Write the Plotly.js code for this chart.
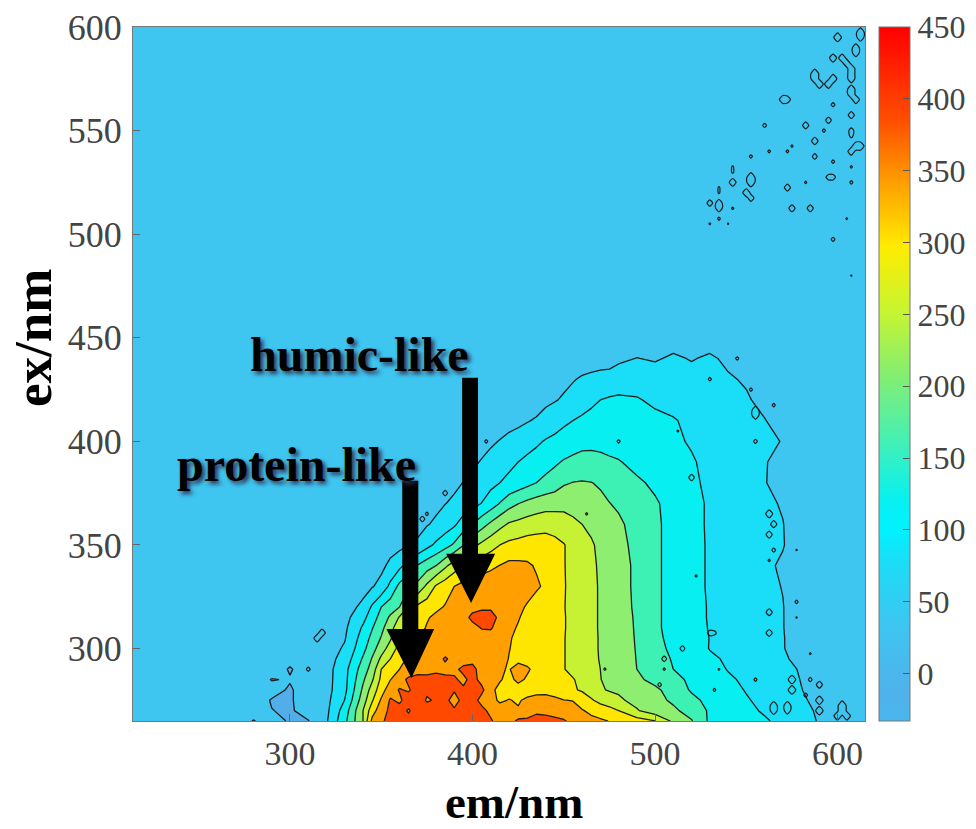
<!DOCTYPE html>
<html><head><meta charset="utf-8">
<script src="https://cdn.plot.ly/plotly-3.0.1.min.js"></script>
<style>html,body{margin:0;padding:0;background:#fff}</style></head>
<body><div id="chart" style="width:976px;height:829px"></div>
<script>
const emNm=[210,270,280,290,300,310,320,330,340,345,350,355,360,365,370,375,380,385,390,395,400,405,410,415,420,425,430,435,440,445,450,455,460,465,470,475,480,490,500,510,520,530,540,550,560,570,580,590,600,610,620];
const exNm=[265,270,275,280,285,290,295,300,305,310,315,320,330,340,350,360,370,380,390,400,410,420,430,440,450,460,620];
const r265=[33,33,9,28,6,9,50,132,231,330,355,380,385,378,392,378,395,372,372,380,385,372,368,345,345,372,370,378,380,375,368,350,345,330,325,318,310,295,276,222,190,135,125,113,103,90,70,52,40,34,33];
const r270=[33,33,28,12,5,30,45,120,231,300,345,372,380,358,390,385,378,372,368,378,372,375,352,345,340,325,345,355,350,342,335,330,322,310,300,290,275,235,205,195,170,137,122,107,95,85,65,50,36,33,32];
const r275=[33,33,33,8,6,33,43,100,210,270,325,368,355,385,392,358,368,372,350,374,380,350,338,310,322,312,332,345,342,330,320,318,300,280,262,250,238,218,200,180,155,130,117,102,90,78,60,46,34,33,33];
const r280=[33,33,33,25,6,33,40,88,195,250,300,345,366,358,385,372,385,368,366,368,372,372,335,300,298,290,290,295,300,296,295,280,270,255,235,228,225,205,195,170,138,125,110,97,85,70,56,42,33,33,33];
const r285=[33,33,33,9,14,33,39,86,180,225,285,318,345,372,380,372,385,372,368,355,375,352,335,325,300,335,310,300,312,298,290,278,262,245,232,222,215,195,175,155,135,120,105,92,80,68,54,40,33,33,33];
const r290=[33,33,33,33,7,33,38,85,165,205,275,300,319,335,345,352,350,352,355,372,375,345,335,325,315,345,328,300,300,290,277,262,255,242,231,220,210,187,160,143,130,115,97,85,75,65,52,38,33,33,33];
const r295=[33,33,33,33,24,33,37,72,148,190,240,275,305,325,332,340,345,368,350,345,350,340,338,330,318,300,295,292,298,288,277,262,252,240,229,217,205,186,158,140,128,108,92,80,72,60,45,35,33,33,33];
const r300=[33,33,33,33,33,33,36,60,130,170,210,250,290,310,325,330,340,342,350,352,345,342,338,330,320,312,310,300,295,285,277,262,250,240,228,215,205,185,155,135,125,97,85,75,68,57,38,33,33,33,33];
const r305=[33,33,33,33,33,33,35,52,118,155,190,225,272,296,318,328,338,342,348,350,352,350,342,335,322,312,306,298,296,286,277,262,250,240,228,216,205,184,152,132,118,98,85,74,65,57,37,33,33,33,33];
const r310=[33,33,33,33,33,33,34,47,105,140,175,215,260,285,305,322,335,340,345,348,352,365,368,340,322,318,305,300,295,287,278,263,250,238,228,216,205,183,150,130,112,97,85,72,62,56,38,33,33,33,33];
const r315=[33,33,33,33,33,33,33,42,85,125,158,195,235,272,295,315,328,338,345,350,372,390,392,345,330,320,315,302,293,287,278,263,250,238,228,216,205,182,150,130,112,96,85,72,62,56,37,33,33,33,33];
const r320=[33,33,33,33,33,33,33,36,65,105,143,165,187,235,285,298,310,322,335,345,352,352,350,345,340,328,315,300,290,284,277,262,250,238,228,216,205,180,150,130,112,96,85,72,62,56,36,33,33,33,33];
const r330=[33,33,33,33,33,33,33,34,40,52,68,110,155,180,200,240,280,300,319,332,340,345,348,346,345,340,335,325,312,295,278,263,250,238,228,216,205,178,150,130,110,95,82,72,62,54,35,33,33,33,33];
const r340=[33,33,33,33,33,33,33,33,34,40,45,65,88,115,146,168,187,222,253,275,290,300,310,320,330,328,325,315,300,288,277,263,250,238,226,215,205,178,150,130,110,95,85,75,62,50,34,33,33,33,33];
const r350=[33,33,33,33,33,33,33,33,33,33,34,38,42,52,62,85,107,125,150,185,220,240,258,275,285,290,295,296,295,288,277,262,248,236,222,212,200,175,150,130,110,95,85,72,62,57,35,33,33,33,33];
const r360=[33,33,33,33,33,33,33,33,33,33,33,33,33,36,42,52,62,78,92,120,143,170,195,218,236,243,250,256,260,256,250,240,231,222,212,204,195,170,150,130,108,95,82,72,62,56,34,33,33,33,33];
const r370=[33,33,33,33,33,33,33,33,33,33,33,33,33,33,34,38,45,54,62,72,85,100,120,145,170,186,198,206,212,215,218,215,210,204,197,188,180,165,148,128,108,95,80,70,62,52,33,33,33,33,33];
const r380=[33,33,33,33,33,33,33,33,33,33,33,33,33,33,33,33,36,40,47,56,65,76,88,99,108,118,130,143,155,165,182,188,190,188,182,170,165,150,135,120,107,90,80,68,57,40,33,33,33,33,33];
const r390=[33,33,33,33,33,33,33,33,33,33,33,33,33,33,33,33,33,33,35,40,48,58,70,80,90,99,107,116,125,136,147,153,158,157,155,150,146,130,120,112,103,88,78,68,58,40,33,33,33,33,33];
const r400=[33,33,33,33,33,33,33,33,33,33,33,33,33,33,33,33,33,33,33,33,35,40,48,57,68,76,85,92,102,108,115,124,130,132,130,126,122,118,112,106,95,85,78,70,65,53,34,33,33,33,33];
const r410=[33,33,33,33,33,33,33,33,33,33,33,33,33,33,33,33,33,33,33,33,33,33,33,33,38,44,52,60,72,82,92,99,106,112,115,118,118,112,108,102,90,82,75,65,57,35,33,33,33,33,33];
const r420=[33,33,33,33,33,33,33,33,33,33,33,33,33,33,33,33,33,33,33,33,33,33,33,33,33,33,33,33,45,52,60,70,80,90,99,103,105,102,92,85,80,75,68,60,42,33,33,33,33,33,33];
const r430=[33,33,33,33,33,33,33,33,33,33,33,33,33,33,33,33,33,33,33,33,33,33,33,33,33,33,33,33,33,33,45,52,60,66,72,76,80,82,80,76,72,68,60,50,34,33,33,33,33,33,33];
const r440=[33,33,33,33,33,33,33,33,33,33,33,33,33,33,33,33,33,33,33,33,33,33,33,33,33,33,33,33,33,33,33,33,33,33,33,33,46,56,50,62,52,62,46,33,33,33,33,33,33,33,33];
const r450=[33,33,33,33,33,33,33,33,33,33,33,33,33,33,33,33,33,33,33,33,33,33,33,33,33,33,33,33,33,33,33,33,33,33,33,33,33,33,33,33,33,33,33,33,33,33,33,33,33,33,33];
const r460=[33,33,33,33,33,33,33,33,33,33,33,33,33,33,33,33,33,33,33,33,33,33,33,33,33,33,33,33,33,33,33,33,33,33,33,33,33,33,33,33,33,33,33,33,33,33,33,33,33,33,33];
const r620=[33,33,33,33,33,33,33,33,33,33,33,33,33,33,33,33,33,33,33,33,33,33,33,33,33,33,33,33,33,33,33,33,33,33,33,33,33,33,33,33,33,33,33,33,33,33,33,33,33,33,33];
const intensity=[r265,r270,r275,r280,r285,r290,r295,r300,r305,r310,r315,r320,r330,r340,r350,r360,r370,r380,r390,r400,r410,r420,r430,r440,r450,r460,r620];

// small isolated noise contours
const islandEm=[600,612.5,612.5,610,610,597,602.5,605,607.5,607.5,607.5,587.5,587.5,590,597.5,595,607.5,607.5,610,570,572.5,597,607,560,582,595,607,607,593,588,610,612.5,607.5,575,562,572,588,552,598,542,542,607,552,552,542,594,596.5,607,582,572,550,552,535,535,535,535,529,542,575,584.5,606,605,535,529,539,598,607,
 545,529,552,565,555,555,555,519.5,512,562,565,561.5,565,578,561.5,522,578,578,561.5,563,584,575,575,584.5,590.5,555,582,591,591,532,535,515.5,515.5,505.5,505,502.5,531,533,602,602,604.5,600,566,566,573,573,
 315,317.5,385.6,375,372.5,408,310.7,480,462.6,473];
const islandEx=[595,597.5,595,590,587.5,585,585,582.5,580,577.5,575,577.5,575,572.5,575,572.5,570,567.5,565,565,565,562,558,552,552,555,551,548,549.5,546,542,542,540,543,540,540,538,537,534.5,531,533,532,527,525,525,528,528,525,525,522.5,520,517.5,521.5,519,515,512.5,516,513,513,513,507.5,507.5,507,504,504,498,480,
 441,429,424,417,412.5,415,400,382,405,366,360,355,348.5,348.5,342,334,322,315,318.5,306.5,297,284,281,286,283,286,277,274,271,279,289,299,301,295,289,282,306.5,306.5,272,269,267.5,267.5,272,269,272,269,
 305,307.5,375,366,363,399,291,399,366,289];
const islandPeak=[180,150,120,120,120,130,130,130,130,130,130,180,180,180,180,180,140,140,140,130,100,70,100,70,100,90,80,70,66,110,140,140,120,62,64,64,80,66,66,62,60,62,200,200,120,80,80,66,62,100,130,100,60,60,110,110,90,62,100,100,60,60,64,60,58,70,58,
 66,66,66,66,120,120,70,90,60,130,100,100,70,58,62,62,66,58,100,100,60,160,160,70,100,66,70,150,150,64,60,80,80,80,62,70,80,70,200,200,150,150,120,120,120,100,
 120,120,80,66,80,66,70,66,62,62];
const islandBase=33, islandStep=2.5;
const gridEm=[],gridEx=[];
for(let e=300;e<=615;e+=islandStep)gridEm.push(e);
for(let e=265;e<=600;e+=islandStep)gridEx.push(e);
const islandZ=gridEx.map(()=>gridEm.map(()=>islandBase));
islandEm.forEach((e,i)=>{
 const c=Math.round((e-300)/islandStep), r=Math.round((islandEx[i]-265)/islandStep);
 islandZ[r][c]=islandPeak[i];
});

const tickVals=[0,50,100,150,200,250,300,350,400,450];
const xTicks=[300,400,500,600];
const yTicks=[300,350,400,450,500,550,600];
const zMin=-33, zMax=450;
const jetScale=[[0,'#4AB6EC'],[0.0455,'#4FB2EB'],[0.1366,'#3EC5F0'],[0.2277,'#1CDCF6'],[0.2754,'#00F2FF'],[0.3188,'#08F0F0'],[0.4099,'#48F0B0'],[0.5,'#85EE70'],[0.5921,'#C8F530'],[0.6832,'#FFEC00'],[0.7743,'#FFA000'],[0.8654,'#FF4E00'],[1,'#FF0000']];
const bandScale=[[0,'#52ADE9'],[0.1,'#3EC6F1'],[0.2,'#1ADDF7'],[0.3,'#08EFF2'],[0.4,'#3DF0B4'],[0.5,'#8EEE70'],[0.6,'#C6F233'],[0.7,'#FFE600'],[0.8,'#FFA000'],[0.9,'#FF4800'],[1,'#FF2000']];
const serif='"Liberation Serif","Times New Roman",serif';

const traces=[
 {type:'heatmap',x:emNm,y:exNm,z:intensity,zmin:zMin,zmax:zMax,colorscale:jetScale,hoverinfo:'skip',
  colorbar:{x:1.0191,xanchor:'left',xref:'paper',y:0,yanchor:'bottom',yref:'paper',len:1,lenmode:'fraction',thickness:31,thicknessmode:'pixels',xpad:0,ypad:0,
   outlinecolor:'#777',outlinewidth:1,ticks:'inside',ticklen:7,tickcolor:'#555',tickvals:tickVals,ticktext:tickVals.map(String),tickfont:{family:serif,size:32,color:'#444'}}},
 {type:'contour',x:emNm,y:exNm,z:intensity,colorscale:bandScale,showscale:false,autocontour:false,
  contours:{coloring:'fill',start:11,end:407,size:44},line:{color:'#1c1c1c',width:1.3,smoothing:0}},
 {type:'contour',x:gridEm,y:gridEx,z:islandZ,showscale:false,autocontour:false,hoverinfo:'skip',
  contours:{coloring:'none',start:55,end:55,size:1},line:{color:'#1c1c1c',width:1.2,smoothing:0.6}}
];
const arrowX1=[361.5,370.3,379,366.5,352.8], arrowY1=[381,309.4,285.8];
const arrowX2=[394.3,403,412.4,399.2,385.6], arrowY2=[430.7,345.7,322];
function arrowPath(X,Y){return `M${X[0]},${Y[0]} L${X[1]},${Y[0]} L${X[1]},${Y[1]} L${X[2]},${Y[1]} L${X[3]},${Y[2]} L${X[4]},${Y[1]} L${X[0]},${Y[1]} Z`;}
const labelFont={family:serif,size:48,color:'#000',weight:700,shadow:'3px 3px 4px #335'};
const layout={width:976,height:829,margin:{l:133,r:111,t:27,b:108,pad:0,autoexpand:false},paper_bgcolor:'#fff',plot_bgcolor:'#3EC6F1',showlegend:false,
 xaxis:{range:[214,615],tickvals:xTicks,ticktext:xTicks.map(String),ticks:'inside',ticklen:7,tickcolor:'#666',showline:true,mirror:true,linecolor:'#777',linewidth:1,showgrid:false,zeroline:false,ticklabelstandoff:2,tickfont:{family:serif,size:34,color:'#444'}},
 yaxis:{range:[265,600],tickvals:yTicks,ticktext:yTicks.map(String),ticks:'inside',ticklen:7,tickcolor:'#666',showline:true,mirror:true,linecolor:'#777',linewidth:1,showgrid:false,zeroline:false,ticklabelstandoff:3,tickfont:{family:serif,size:36,color:'#444'}},
 shapes:[
  {type:'path',xref:'x',yref:'y',path:arrowPath(arrowX1,arrowY1),fillcolor:'#000',line:{width:0}},
  {type:'path',xref:'x',yref:'y',path:arrowPath(arrowX2,arrowY2),fillcolor:'#000',line:{width:0}}],
 annotations:[
  {text:'humic-like',xref:'x',yref:'y',x:338,y:442,showarrow:false,font:labelFont},
  {text:'protein-like',xref:'x',yref:'y',x:303.6,y:388.7,showarrow:false,font:labelFont},
  {text:'em/nm',xref:'paper',yref:'paper',x:0.5205,y:-0.1168,xanchor:'center',yanchor:'middle',showarrow:false,font:{family:serif,size:47,color:'#000',weight:700}},
  {text:'ex/nm',xref:'paper',yref:'paper',x:-0.1366,y:0.552,xanchor:'center',yanchor:'middle',textangle:-90,showarrow:false,font:{family:serif,size:53,color:'#000',weight:700}}]
};
Plotly.newPlot('chart',traces,layout,{displayModeBar:false,responsive:false});
</script></body></html>
